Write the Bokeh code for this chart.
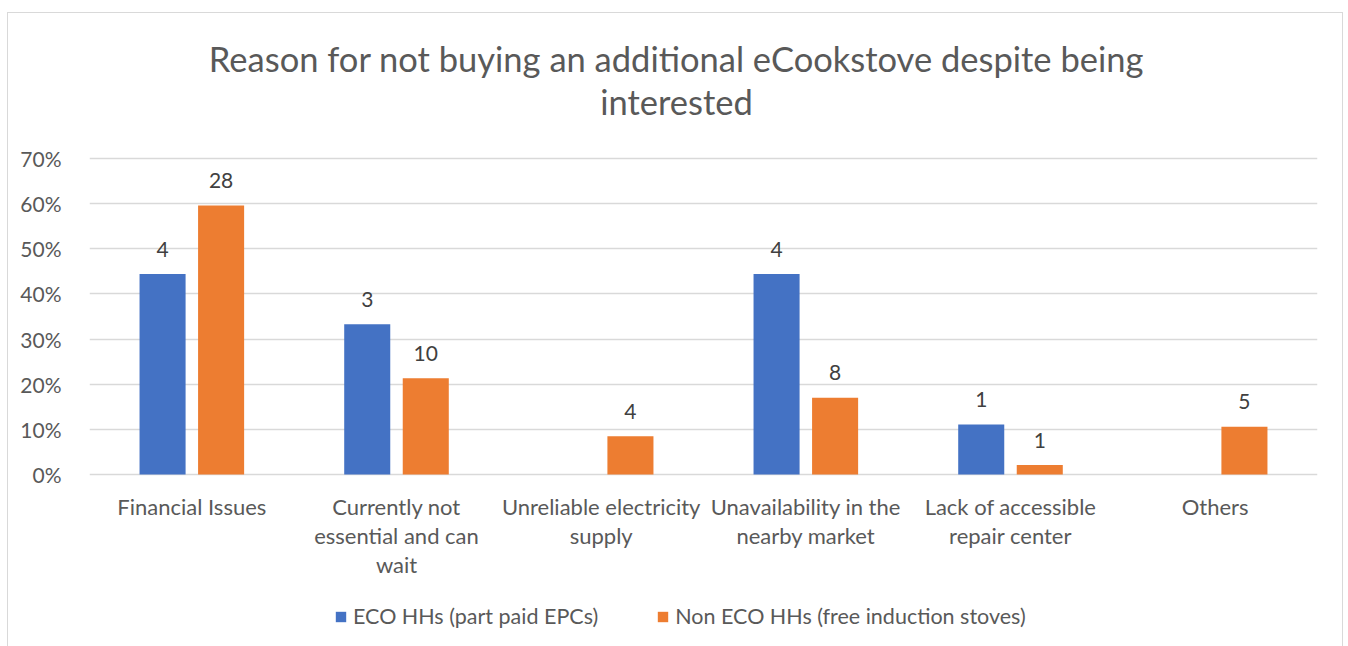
from bokeh.plotting import figure
from bokeh.models import (ColumnDataSource, FixedTicker, NumeralTickFormatter, Legend,
                          LegendItem, Range1d)
from bokeh.core.properties import value
from bokeh.embed import file_html
from bokeh.resources import INLINE

categories = ["Financial Issues", "Currently not\nessential and can\nwait",
              "Unreliable electricity\nsupply", "Unavailability in the\nnearby market",
              "Lack of accessible\nrepair center", "Others"]
eco_pct = [0.444, 0.333, 0.0, 0.444, 0.111, 0.0]
eco_counts = ["4", "3", "", "4", "1", ""]
non_pct = [0.596, 0.213, 0.085, 0.170, 0.021, 0.106]
non_counts = ["28", "10", "4", "8", "1", "5"]
series_names = ["ECO HHs (part paid EPCs)", "Non ECO HHs (free induction stoves)"]
y_ticks = [0.0, 0.1, 0.2, 0.3, 0.4, 0.5, 0.6, 0.7]
title_lines = ["Reason for not buying an additional eCookstove despite being", "interested"]

FONT = "Lato"
GREY = "#595959"
DARK = "#404040"
BLUE = "#4472C4"
ORANGE = "#ED7D31"

# vertical scale: 0..0.7 occupies 316 px; the frame extends above and below
PX = 316 / 0.7
Y_LO = -(646 - 473) / PX
Y_HI = (473 - 12) / PX

centers = [i + 0.5 for i in range(len(categories))]
off = 0.143
bw = 0.225

src_eco = ColumnDataSource(dict(x=[c - off for c in centers], top=eco_pct, lab=eco_counts))
src_non = ColumnDataSource(dict(x=[c + off for c in centers], top=non_pct, lab=non_counts))

p = figure(width=1336, height=634, output_backend="svg", toolbar_location=None,
           x_range=Range1d(0, len(categories)), y_range=Range1d(Y_LO, Y_HI),
           min_border_left=81, min_border_right=27, min_border_top=0, min_border_bottom=0)
p.margin = (12, 0, 0, 7)
p.styles = {"border": "1px solid #d9d9d9", "border-bottom": "none"}
p.background_fill_color = "white"
p.border_fill_color = "white"
p.outline_line_color = None
p.xaxis.visible = False

p.xgrid.grid_line_color = None
p.ygrid.grid_line_color = "#d9d9d9"
p.ygrid.grid_line_width = 1.5

r1 = p.vbar(x="x", top="top", width=bw, source=src_eco, fill_color=BLUE, line_color=None)
r2 = p.vbar(x="x", top="top", width=bw, source=src_non, fill_color=ORANGE, line_color=None)

for src in (src_eco, src_non):
    p.text(x="x", y="top", text="lab", source=src, text_align="center",
           text_baseline="middle", y_offset=-25, text_font=value(FONT),
           text_font_size="21px", text_color=DARK)

# title, centred over the chart area
title_x = (675 - 88) / ((1316 - 88) / len(categories))
for k, line in enumerate(title_lines):
    p.text(x=[title_x], y=[y_ticks[-1]], text=[line], text_align="center",
           text_baseline="middle", y_offset=-(100 - 43 * k), text_font=value(FONT),
           text_font_size="34.5px", text_color=GREY)

# category labels under the baseline
for c, cat in zip(centers, categories):
    for k, line in enumerate(cat.split("\n")):
        p.text(x=[c], y=[0], text=[line], text_align="center", text_baseline="middle",
               y_offset=32 + 29 * k, text_font=value(FONT), text_font_size="22px",
               text_color=GREY)

p.yaxis.ticker = FixedTicker(ticks=y_ticks)
p.yaxis.formatter = NumeralTickFormatter(format="0%")
p.yaxis.major_label_text_font = FONT
p.yaxis.major_label_text_font_size = "21px"
p.yaxis.major_label_text_color = GREY
p.yaxis.major_label_standoff = 22
p.yaxis.major_tick_line_color = None
p.yaxis.minor_tick_line_color = None
p.yaxis.axis_line_color = None

legend = Legend(items=[LegendItem(label=series_names[0], renderers=[r1]),
                       LegendItem(label=series_names[1], renderers=[r2])],
                orientation="horizontal", location=(245, 18),
                label_text_font=FONT, label_text_font_size="21.5px", label_text_color=GREY,
                glyph_width=13, glyph_height=13, spacing=58, label_standoff=6,
                border_line_color=None, background_fill_alpha=0, margin=0, padding=0)
p.add_layout(legend, "center")

open("out.html", "w").write(file_html(p, INLINE))
